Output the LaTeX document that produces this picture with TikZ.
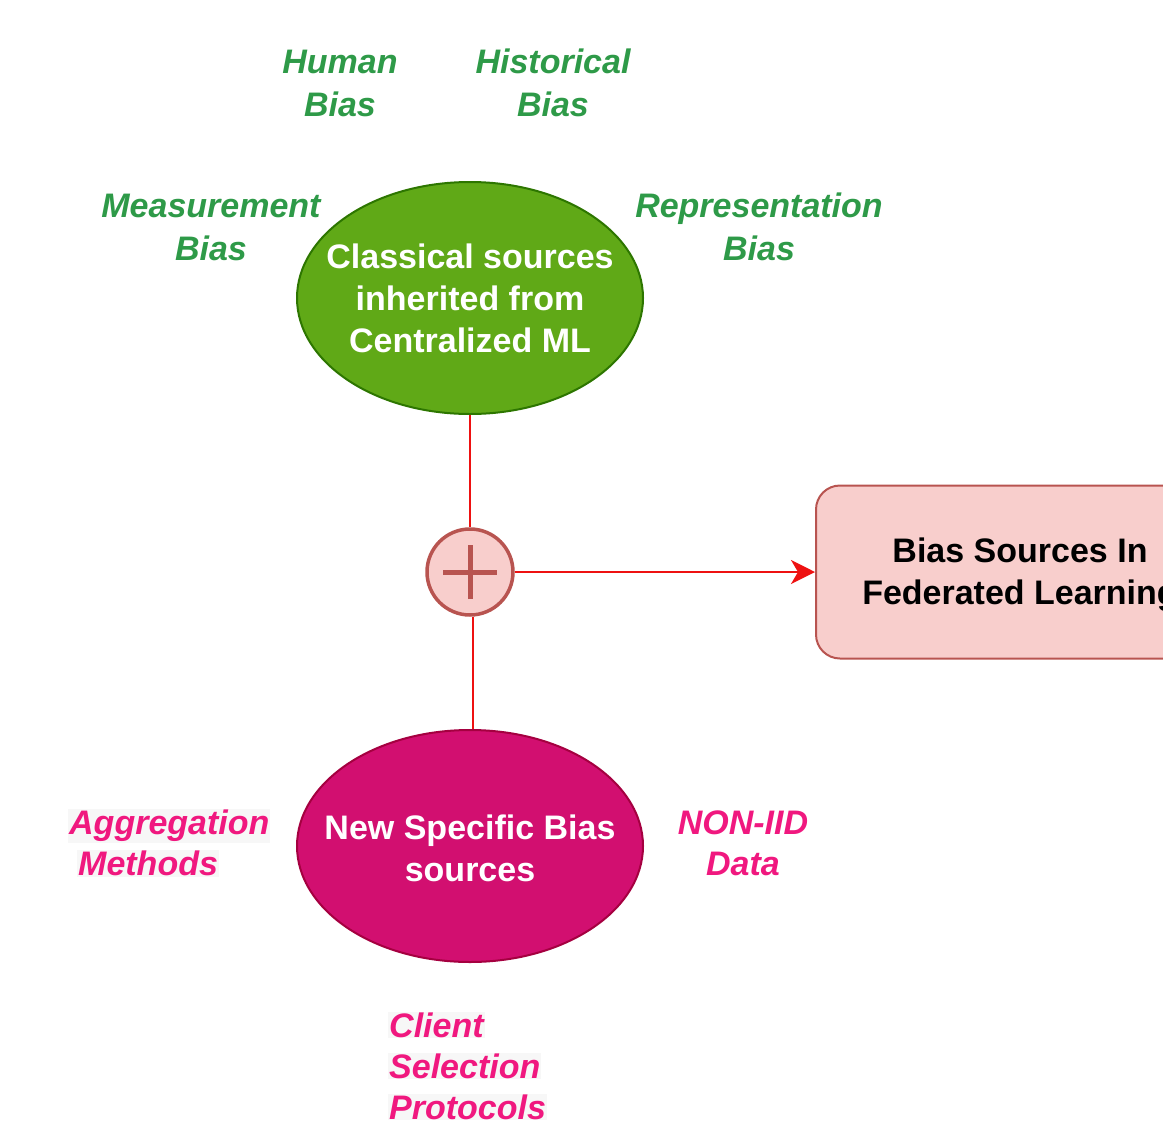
\documentclass[tikz,border=0pt]{standalone}
\usepackage{fontspec}
\setmainfont{Liberation Sans}
\usetikzlibrary{shapes.geometric,arrows.meta}
\definecolor{grfill}{HTML}{60A917}
\definecolor{grline}{HTML}{2D7600}
\definecolor{mgfill}{HTML}{D20F70}
\definecolor{mgline}{HTML}{A50040}
\definecolor{pkfill}{HTML}{F8CECC}
\definecolor{pkline}{HTML}{B85450}
\definecolor{grtext}{HTML}{2E9A48}
\definecolor{mgtext}{HTML}{F0187F}
\definecolor{lblbg}{HTML}{F7F7F7}
\definecolor{wire}{HTML}{EE1111}
\newcommand{\bglab}[1]{{\setlength\fboxsep{1pt}\colorbox{lblbg}{#1}}}
\tikzset{
  bigtext/.style={font=\fontsize{34}{42}\selectfont\bfseries, align=center},
  oval/.style={ellipse, draw, line width=2pt, minimum width=346pt, minimum height=232pt, inner sep=0pt},
  ovaltext/.style={bigtext, text=white, inner sep=0pt},
  greenlab/.style={font=\fontsize{34}{43}\selectfont\bfseries\itshape, text=grtext, align=center},
  pinklab/.style={font=\fontsize{34}{41}\selectfont\bfseries\itshape, text=mgtext},
  wireline/.style={draw=wire, line width=2pt},
}
\begin{document}
\begin{tikzpicture}[x=1pt,y=-1pt]
\useasboundingbox (0,0) rectangle (1163,1125);
\clip (0,0) rectangle (1163,1125);
% main shapes
\node[oval, fill=grfill, draw=grline] (green) at (470,298) {};
\node[ovaltext] (greentext) at (green.center) {Classical sources\\inherited from\\Centralized ML};
\node[oval, fill=mgfill, draw=mgline] (magenta) at (470,846) {};
\node[ovaltext] (magentatext) at ([yshift=-2pt]magenta.center) {New Specific Bias\\sources};
\node[circle, fill=pkfill, draw=pkline, line width=3.5pt, minimum size=86pt, inner sep=0pt] (plus) at (470,572) {};
\draw[pkline, line width=5pt] ([xshift=-27pt]plus.center) -- ([xshift=27pt]plus.center);
\draw[pkline, line width=5pt] ([yshift=-27pt]plus.center) -- ([yshift=27pt]plus.center);
\node[draw=pkline, fill=pkfill, line width=2pt, rounded corners=24pt, minimum width=408pt, minimum height=173pt, inner sep=0pt] (box) at (1020,572) {};
\node[bigtext, text=black, inner sep=0pt] (boxtext) at ([yshift=-3pt]box.center) {Bias Sources In\\Federated Learning};
% connectors
\draw[wireline] (green.south) -- (plus.north);
\draw[wireline] ([xshift=3pt]plus.south) -- ([xshift=3pt]magenta.north);
\draw[wireline, -{Stealth[length=24pt, width=24pt, inset=7pt]}] (plus.east) -- (box.west);
% green labels
\node[greenlab] (human) at (340,83) {Human\\Bias};
\node[greenlab] (historical) at (553,83) {Historical\\Bias};
\node[greenlab] (measurement) at (211,227) {Measurement\\Bias};
\node[greenlab] (representation) at (759,227) {Representation\\Bias};
% pink labels
\node[pinklab, align=left, anchor=west, inner sep=0pt] (aggregation) at (68,843) {\bglab{Aggregation}\\\hspace*{9pt}\bglab{Methods}};
\node[pinklab, align=center] (noniid) at (743,843) {NON-IID\\Data};
\node[pinklab, align=left, anchor=west, inner sep=0pt] (client) at (388,1066) {\bglab{Client}\\\bglab{Selection}\\\bglab{Protocols}};
\end{tikzpicture}
\end{document}
